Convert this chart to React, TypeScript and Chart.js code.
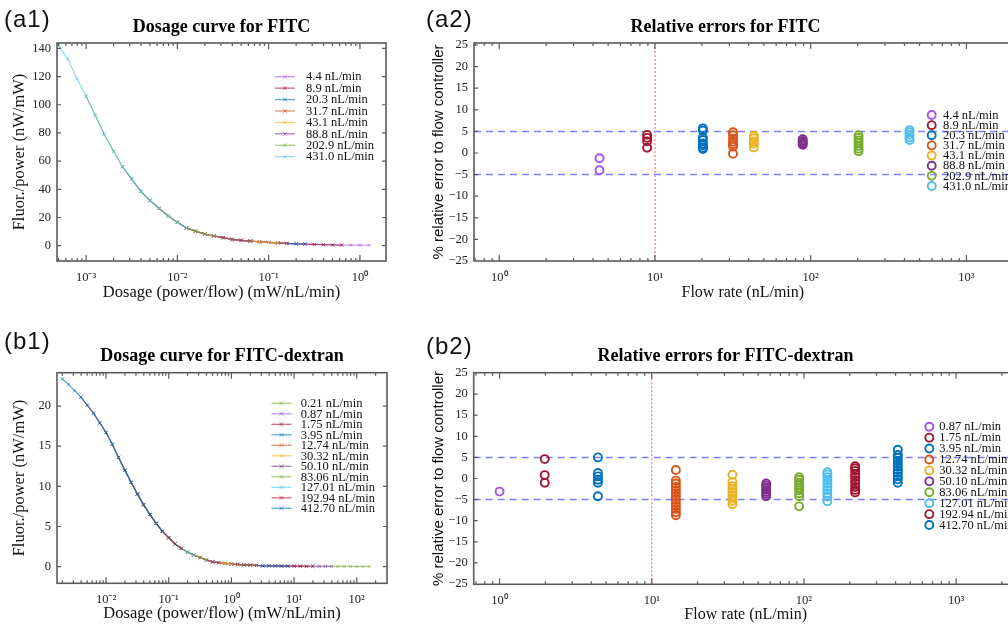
import React, { useEffect, useRef } from 'react';
import { Chart, registerables } from 'chart.js';

Chart.register(...registerables);

const SERIF = "'Liberation Serif', 'Times New Roman', serif";
const SANS = "'Liberation Sans', Arial, sans-serif";

// ---------------- colours ----------------
const C_LILAC = '#a452ea';
const C_CRIMSON = '#a2142f';
const C_BLUE = '#0072bd';
const C_ORANGE = '#d95319';
const C_YELLOW = '#edb120';
const C_PURPLE = '#7e2f8e';
const C_GREEN = '#77ac30';
const C_CYAN = '#4dbeee';

// ---------------- (a1) dosage curve for FITC ----------------
const a1Labels = ['4.4 nL/min', '8.9 nL/min', '20.3 nL/min', '31.7 nL/min', '43.1 nL/min', '88.8 nL/min', '202.9 nL/min', '431.0 nL/min'];
const a1Colors = [C_LILAC, C_CRIMSON, C_BLUE, C_ORANGE, C_YELLOW, C_PURPLE, C_GREEN, C_CYAN];
const a1Dosage = [5.01e-4, 6.31e-4, 7.94e-4, 1.0e-3, 1.26e-3, 1.58e-3, 2.0e-3, 2.51e-3, 3.16e-3, 3.98e-3, 5.01e-3, 6.31e-3, 7.94e-3, 0.01, 0.0126, 0.0158, 0.02, 0.0251, 0.0316, 0.0398, 0.0501, 0.0631, 0.0794, 0.1, 0.126, 0.158, 0.2, 0.251, 0.316, 0.398, 0.501, 0.631, 0.794, 1.0, 1.26];
const a1Fluor = [142, 132.5, 118.5, 106, 92.5, 79, 67, 56, 47.3, 38.5, 32.1, 26.5, 21.1, 16.6, 12.6, 10.3, 8.2, 6.9, 5.7, 4.45, 3.8, 3.3, 2.8, 2.35, 2.0, 1.67, 1.35, 1.1, 0.9, 0.71, 0.52, 0.46, 0.41, 0.36, 0.31];
const a1First = [20, 17, 13, 11, 10, 7, 3, 0];
const a1Last = [34, 31, 27, 25, 24, 21, 17, 14];
const a1YTicks = [0, 20, 40, 60, 80, 100, 120, 140];

// ---------------- (a2) relative errors for FITC ----------------
const a2Labels = a1Labels;
const a2Colors = [C_LILAC, C_CRIMSON, C_BLUE, C_ORANGE, C_YELLOW, C_PURPLE, C_GREEN, C_CYAN];
const a2Flow = [4.4, 8.9, 20.3, 31.7, 43.1, 88.8, 202.9, 431.0];
const a2Err4_4 = [-1.2, -4.0];
const a2Err8_9 = [4.2, 3.5, 2.7, 1.2];
const a2Err20_3 = [5.7, 5.2, 3.6, 3.0, 2.2, 1.8, 1.2, 0.9];
const a2Err31_7 = [4.8, 4.1, 3.3, 2.6, 2.0, 1.5, -0.2];
const a2Err43_1 = [4.0, 3.4, 2.7, 2.2, 1.3];
const a2Err88_8 = [3.2, 2.8, 2.5, 2.2, 1.9];
const a2Err202_9 = [4.1, 3.5, 2.9, 2.3, 1.6, 1.0, 0.4];
const a2Err431_0 = [5.3, 4.8, 4.2, 3.6, 3.0];
const a2Errors = [a2Err4_4, a2Err8_9, a2Err20_3, a2Err31_7, a2Err43_1, a2Err88_8, a2Err202_9, a2Err431_0];

// ---------------- (b1) dosage curve for FITC-dextran ----------------
const b1Labels = ['0.21 nL/min', '0.87 nL/min', '1.75 nL/min', '3.95 nL/min', '12.74 nL/min', '30.32 nL/min', '50.10 nL/min', '83.06 nL/min', '127.01 nL/min', '192.94 nL/min', '412.70 nL/min'];
const b1Colors = [C_GREEN, C_LILAC, C_CRIMSON, C_BLUE, C_ORANGE, C_YELLOW, C_PURPLE, C_GREEN, C_CYAN, C_CRIMSON, C_BLUE];
const b1Dosage = [0.002, 0.00251, 0.00316, 0.00398, 0.00501, 0.00631, 0.00794, 0.01, 0.0126, 0.0158, 0.02, 0.0251, 0.0316, 0.0398, 0.0501, 0.0631, 0.0794, 0.1, 0.126, 0.158, 0.2, 0.251, 0.316, 0.398, 0.501, 0.631, 0.794, 1.0, 1.26, 1.58, 2.0, 2.51, 3.16, 3.98, 5.01, 6.31, 7.94, 10, 12.6, 15.8, 20, 25.1, 31.6, 39.8, 50.1, 63.1, 79.4, 100, 126, 158];
const b1Fluor = [23.4, 22.7, 21.9, 21.1, 20.1, 19.1, 17.9, 16.7, 15.25, 13.6, 12.0, 10.5, 9.05, 7.7, 6.5, 5.4, 4.4, 3.6, 2.83, 2.28, 1.8, 1.45, 1.14, 0.84, 0.59, 0.5, 0.41, 0.33, 0.28, 0.23, 0.19, 0.15, 0.11, 0.1, 0.09, 0.08, 0.07, 0.065, 0.06, 0.05, 0.05, 0.04, 0.04, 0.035, 0.03, 0.03, 0.025, 0.02, 0.02, 0.02];
const b1First = [33, 27, 24, 20, 15, 11, 9, 7, 5, 3, 0];
const b1Last = [49, 43, 40, 36, 31, 27, 25, 23, 21, 19, 16];
const b1YTicks = [0, 5, 10, 15, 20];

// ---------------- (b2) relative errors for FITC-dextran ----------------
const b2Labels = ['0.87 nL/min', '1.75 nL/min', '3.95 nL/min', '12.74 nL/min', '30.32 nL/min', '50.10 nL/min', '83.06 nL/min', '127.01 nL/min', '192.94 nL/min', '412.70 nL/min'];
const b2Colors = [C_LILAC, C_CRIMSON, C_BLUE, C_ORANGE, C_YELLOW, C_PURPLE, C_GREEN, C_CYAN, C_CRIMSON, C_BLUE];
const b2Flow = [1.0, 1.98, 4.43, 14.4, 33.9, 56.5, 93, 142.6, 217, 414];
const b2Err0_87 = [-3.1];
const b2Err1_75 = [4.6, 0.8, -1.0];
const b2Err3_95 = [5.0, 1.3, 0.5, -0.3, -1.0, -4.2];
const b2Err12_74 = [2.0, -0.5, -1.2, -2.0, -2.8, -3.5, -4.2, -5.0, -5.8, -6.5, -7.2, -8.0, -8.7];
const b2Err30_32 = [0.9, -0.8, -1.8, -2.5, -3.2, -4.0, -4.7, -5.3, -6.1];
const b2Err50_10 = [-1.2, -1.7, -2.2, -2.7, -3.2, -3.7, -4.2];
const b2Err83_06 = [0.3, -0.3, -1.0, -1.6, -2.2, -2.8, -3.5, -4.2, -6.6];
const b2Err127_01 = [1.5, 1.0, 0.3, -0.5, -1.2, -2.0, -2.8, -3.5, -4.3, -5.4];
const b2Err192_94 = [2.9, 2.4, 1.8, 1.0, 0.3, -0.5, -1.2, -2.0, -2.7, -3.3];
const b2Err412_70 = [6.8, 5.6, 4.9, 4.2, 3.5, 2.8, 2.0, 1.3, 0.5, -0.2, -1.0];
const b2Errors = [b2Err0_87, b2Err1_75, b2Err3_95, b2Err12_74, b2Err30_32, b2Err50_10, b2Err83_06, b2Err127_01, b2Err192_94, b2Err412_70];

const errYTicks = [-25, -20, -15, -10, -5, 0, 5, 10, 15, 20, 25];
const errBand = [-5, 5];
const controllerLimit = 10;

// ---------------- helpers ----------------
function alpha(hex: string, a: number) {
  const n = parseInt(hex.slice(1), 16);
  return `rgba(${(n >> 16) & 255},${(n >> 8) & 255},${n & 255},${a})`;
}

const SUP: Record<string, string> = { '-': '\u207B', '0': '\u2070', '1': '\u00B9', '2': '\u00B2', '3': '\u00B3', '4': '\u2074', '5': '\u2075', '6': '\u2076', '7': '\u2077', '8': '\u2078', '9': '\u2079' };

function powLabel(v: number) {
  const l = Math.log10(v);
  const e = Math.round(l);
  if (Math.abs(l - e) > 1e-6) return '';
  return '10' + String(e).split('').map((c) => SUP[c]).join('');
}

function logTicks(min: number, max: number) {
  const out: any[] = [];
  for (let e = Math.floor(Math.log10(min)); e <= Math.ceil(Math.log10(max)); e++) {
    for (let m = 1; m <= 9; m++) {
      const v = m * Math.pow(10, e);
      if (v >= min && v <= max) out.push({ value: v, major: m === 1 });
    }
  }
  return out;
}

const fmtSigned = (v: any) => (Number(v) < 0 ? '\u2212' + Math.abs(Number(v)) : String(v));

const TICK_FONT = { family: SERIF, size: 12.5 };

function logX(min: number, max: number, title: string, axisH: number, titlePadB: number, titleSize: number) {
  return {
    type: 'logarithmic',
    position: 'bottom',
    min,
    max,
    grid: { display: false, drawTicks: false },
    border: { display: false },
    afterBuildTicks: (s: any) => {
      s.ticks = logTicks(min, max);
    },
    afterFit: (s: any) => {
      s.height = axisH;
    },
    ticks: {
      autoSkip: false,
      maxRotation: 0,
      minRotation: 0,
      padding: 9,
      color: '#222',
      font: TICK_FONT,
      callback: (v: any) => powLabel(Number(v)),
    },
    title: {
      display: true,
      text: title,
      color: '#111',
      font: { family: SERIF, size: titleSize, lineHeight: 1.2 },
      padding: { top: 0, bottom: titlePadB },
    },
  };
}

function linY(min: number, max: number, ticks: number[], title: string, axisW: number, titlePadTop: number, titleFont: any) {
  return {
    type: 'linear',
    position: 'left',
    min,
    max,
    bounds: 'data',
    grid: { display: false, drawTicks: false },
    border: { display: false },
    afterBuildTicks: (s: any) => {
      s.ticks = ticks.map((v) => ({ value: v }));
    },
    afterFit: (s: any) => {
      s.width = axisW;
    },
    ticks: {
      autoSkip: false,
      padding: 6,
      color: '#222',
      font: TICK_FONT,
      callback: fmtSigned,
    },
    title: {
      display: true,
      text: title,
      color: '#111',
      font: titleFont,
      padding: { top: titlePadTop, bottom: 0 },
    },
  };
}

// empty right-hand box so that the panel title is centred on the full panel
function spacerAxis(w: number) {
  return {
    type: 'linear',
    position: 'right',
    display: true,
    grid: { display: false, drawTicks: false },
    border: { display: false },
    ticks: { display: false },
    afterFit: (s: any) => {
      s.width = w;
    },
  };
}

function makeFramePlugin(rightTicks: boolean) {
  return {
    id: 'frameTicks',
    afterDatasetsDraw(chart: any) {
      const { ctx, chartArea: a } = chart;
      const xs = chart.scales.x;
      const ys = chart.scales.y;
      ctx.save();
      ctx.strokeStyle = '#5a5a5a';
      ctx.lineWidth = 1.2;
      ctx.beginPath();
      for (const t of xs.ticks) {
        const p = xs.getPixelForValue(t.value);
        if (p < a.left + 1 || p > a.right - 1) continue;
        const L = t.major ? 6 : 3;
        ctx.moveTo(p, a.bottom);
        ctx.lineTo(p, a.bottom - L);
        ctx.moveTo(p, a.top);
        ctx.lineTo(p, a.top + L);
      }
      for (const t of ys.ticks) {
        const p = ys.getPixelForValue(t.value);
        if (p < a.top + 1 || p > a.bottom - 1) continue;
        ctx.moveTo(a.left, p);
        ctx.lineTo(a.left + 4, p);
        if (rightTicks) {
          ctx.moveTo(a.right, p);
          ctx.lineTo(a.right - 4, p);
        }
      }
      ctx.stroke();
      ctx.lineWidth = 1.6;
      ctx.strokeRect(a.left, a.top, a.right - a.left, a.bottom - a.top);
      ctx.restore();
    },
  };
}

function makeLegendPlugin(kind: 'line' | 'circle', x: number, y0: number, rowH: number, textX: number) {
  return {
    id: 'insideLegend',
    afterDraw(chart: any) {
      const ctx = chart.ctx;
      const items = chart.data.datasets.filter((d: any) => d.label);
      ctx.save();
      ctx.font = `12.5px ${SERIF}`;
      ctx.textBaseline = 'middle';
      ctx.textAlign = 'left';
      items.forEach((d: any, i: number) => {
        const y = y0 + i * rowH;
        ctx.strokeStyle = d.borderColor;
        if (kind === 'line') {
          ctx.lineWidth = 1.3;
          ctx.beginPath();
          ctx.moveTo(x - 10, y);
          ctx.lineTo(x + 10, y);
          ctx.stroke();
          ctx.lineWidth = 1;
          const r = 2;
          ctx.beginPath();
          ctx.moveTo(x - r, y - r);
          ctx.lineTo(x + r, y + r);
          ctx.moveTo(x - r, y + r);
          ctx.lineTo(x + r, y - r);
          ctx.stroke();
        } else {
          ctx.lineWidth = 1.9;
          ctx.beginPath();
          ctx.arc(x, y, 4, 0, Math.PI * 2);
          ctx.stroke();
        }
        ctx.fillStyle = '#111';
        ctx.fillText(d.label, textX, y + 0.5);
      });
      ctx.restore();
    },
  };
}

function baseOptions(o: any) {
  const scales: any = { x: o.x, y: o.y };
  if (o.rightSpacer) scales.yr = spacerAxis(o.rightSpacer);
  return {
    responsive: false,
    animation: false,
    events: [],
    layout: { padding: { left: 0, right: o.padRight, top: 0, bottom: 0 } },
    plugins: {
      legend: { display: false },
      tooltip: { enabled: false },
      title: {
        display: true,
        text: o.title,
        color: '#000',
        fullSize: o.fullSize,
        font: { family: SERIF, size: 18, weight: 'bold', lineHeight: 1.2 },
        padding: { top: o.titleTop, bottom: o.titleBottom },
      },
    },
    scales,
  };
}

function dosageConfig(o: any) {
  const n = o.labels.length;
  const datasets = o.labels.map((lab: string, k: number) => ({
    label: lab,
    data: o.dose.slice(o.first[k], o.last[k] + 1).map((x: number, i: number) => ({ x, y: o.fluor[o.first[k] + i] })),
    showLine: true,
    order: n - 1 - k,
    borderColor: alpha(o.colors[k], 0.62),
    backgroundColor: alpha(o.colors[k], 0.62),
    borderWidth: 1.2,
    pointStyle: 'crossRot',
    pointRadius: 2.2,
    pointBorderWidth: 1,
    pointHoverRadius: 0,
    tension: 0,
  }));
  return {
    type: 'scatter',
    data: { datasets },
    options: baseOptions(o),
    plugins: [makeFramePlugin(true), o.legend],
  };
}

function errorConfig(o: any) {
  const n = o.labels.length;
  const datasets: any[] = o.labels.map((lab: string, k: number) => ({
    label: lab,
    data: o.errs[k].map((e: number) => ({ x: o.flows[k], y: e })),
    order: n - 1 - k,
    borderColor: o.colors[k],
    backgroundColor: 'rgba(0,0,0,0)',
    pointStyle: 'circle',
    pointRadius: 4,
    pointBorderWidth: 1.9,
    pointHoverRadius: 0,
  }));
  errBand.forEach((b) => {
    datasets.push({
      data: [
        { x: o.x.min, y: b },
        { x: o.x.max, y: b },
      ],
      showLine: true,
      order: 100,
      borderColor: '#8080ff',
      borderWidth: 1.5,
      borderDash: [7, 5],
      pointRadius: 0,
    });
  });
  datasets.push({
    data: [
      { x: controllerLimit, y: o.y.min },
      { x: controllerLimit, y: o.y.max },
    ],
    showLine: true,
    order: 101,
    borderColor: '#ff7a7a',
    borderWidth: 1.2,
    borderDash: [2, 2],
    pointRadius: 0,
  });
  return {
    type: 'scatter',
    data: { datasets },
    options: baseOptions(o),
    plugins: [makeFramePlugin(false), o.legend],
  };
}

const dosageTitleFont = { family: SERIF, size: 16.5, lineHeight: 1.2 };
const errTitleFont = { family: SANS, size: 15, lineHeight: 1.2 };

const makeA1 = () =>
  dosageConfig({
    labels: a1Labels,
    colors: a1Colors,
    first: a1First,
    last: a1Last,
    dose: a1Dosage,
    fluor: a1Fluor,
    x: logX(4.8e-4, 1.93, 'Dosage (power/flow) (mW/nL/min)', 49, 7, 16.5),
    y: linY(-10.85, 143.8, a1YTicks, 'Fluor./power (nW/mW)', 57, 10, dosageTitleFont),
    title: 'Dosage curve for FITC',
    titleTop: 16.2,
    titleBottom: 5.2,
    fullSize: false,
    padRight: 14,
    legend: makeLegendPlugin('line', 285, 76.7, 11.43, 306),
  });

const makeA2 = () =>
  errorConfig({
    labels: a2Labels,
    colors: a2Colors,
    flows: a2Flow,
    errs: a2Errors,
    x: logX(0.688, 1950, 'Flow rate (nL/min)', 49, 7.4, 16),
    y: linY(-25, 25.46, errYTicks, '% relative error to flow controller', 74, 29.8, errTitleFont),
    title: 'Relative errors for FITC',
    titleTop: 16.2,
    titleBottom: 5.2,
    fullSize: true,
    padRight: 0,
    rightSpacer: 39.4,
    legend: makeLegendPlugin('circle', 531.7, 115, 10.14, 543),
  });

const makeB1 = () =>
  dosageConfig({
    labels: b1Labels,
    colors: b1Colors,
    first: b1First,
    last: b1Last,
    dose: b1Dosage,
    fluor: b1Fluor,
    x: logX(1.65e-3, 304, 'Dosage (power/flow) (mW/nL/min)', 42.7, 2.1, 16.5),
    y: linY(-2.07, 24.15, b1YTicks, 'Fluor./power (nW/mW)', 57, 10, dosageTitleFont),
    title: 'Dosage curve for FITC-dextran',
    titleTop: 35.9,
    titleBottom: 5.2,
    fullSize: false,
    padRight: 13,
    legend: makeLegendPlugin('line', 281.5, 93.3, 10.5, 300.7),
  });

const makeB2 = () =>
  errorConfig({
    labels: b2Labels,
    colors: b2Colors,
    flows: b2Flow,
    errs: b2Errors,
    x: logX(0.676, 2535, 'Flow rate (nL/min)', 41.7, 1.4, 16),
    y: linY(-25.07, 25.07, errYTicks, '% relative error to flow controller', 73.7, 29.8, errTitleFont),
    title: 'Relative errors for FITC-dextran',
    titleTop: 35.9,
    titleBottom: 5.2,
    fullSize: true,
    padRight: 0,
    rightSpacer: 33.4,
    legend: makeLegendPlugin('circle', 529.3, 116.7, 10.93, 539.3),
  });

function Panel({ left, top, width, height, make }: { left: number; top: number; width: number; height: number; make: () => any }) {
  const ref = useRef<HTMLCanvasElement>(null);
  useEffect(() => {
    const chart = new Chart(ref.current as HTMLCanvasElement, make());
    return () => chart.destroy();
  }, [make]);
  return <canvas ref={ref} width={width} height={height} style={{ position: 'absolute', left, top, width, height }} />;
}

const panelLabel = (left: number, top: number): React.CSSProperties => ({
  position: 'absolute',
  left,
  top,
  fontFamily: SANS,
  fontSize: 24,
  letterSpacing: 1,
  lineHeight: '26px',
  color: '#111',
});

export default function App() {
  return (
    <div style={{ position: 'fixed', left: 0, top: 0, width: 1008, height: 626, overflow: 'hidden', background: '#fff' }}>
      <Panel left={0} top={0} width={400} height={310} make={makeA1} />
      <Panel left={400} top={0} width={651} height={310} make={makeA2} />
      <Panel left={0} top={310} width={400} height={316} make={makeB1} />
      <Panel left={400} top={310} width={651} height={316} make={makeB2} />
      <div style={panelLabel(4, 6)}>(a1)</div>
      <div style={panelLabel(426, 6)}>(a2)</div>
      <div style={panelLabel(4, 328)}>(b1)</div>
      <div style={panelLabel(426, 333)}>(b2)</div>
    </div>
  );
}
